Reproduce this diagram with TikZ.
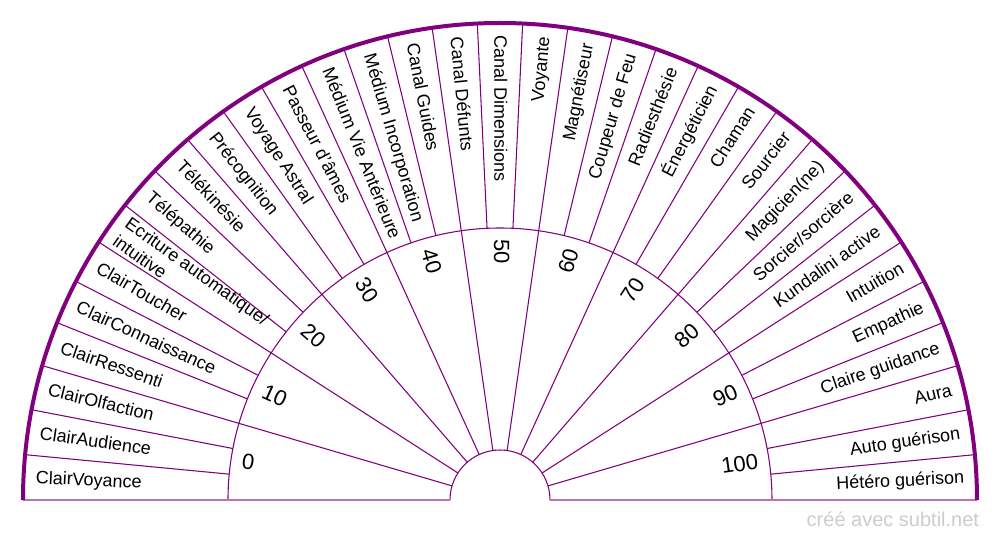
\documentclass[tikz,border=0pt]{standalone}
\usepackage{fontspec}
\setmainfont{Liberation Sans}
\definecolor{vio}{HTML}{800080}
\begin{document}
\begin{tikzpicture}[x=0.75pt,y=0.75pt,
  lab/.style={font=\fontsize{13.5}{16}\selectfont, inner sep=0pt, align=left},
  num/.style={font=\fontsize{16.5}{19}\selectfont, inner sep=0pt},
  spoke/.style={draw=vio, line width=0.8pt},
  base/.style={draw=vio!55, line width=1.4pt},
  rim/.style={draw=vio, line width=3pt},
  foot/.style={font=\fontsize{15}{18}\selectfont, text=black!20, inner sep=0pt}]
\useasboundingbox (-500,-40) rectangle (500,500);
% spokes
\foreach \j in {1,...,32}{
  \pgfmathsetmacro\a{180-\j*180/33}
  \pgfmathsetmacro\r{mod(\j,3)==0 ? 50 : 272}
  \draw[spoke] (\a:\r) -- (\a:477);
}
% arcs
\draw[spoke] (-272,0) arc[start angle=180,end angle=0,radius=272];
\draw[spoke] (-50,0) arc[start angle=180,end angle=0,radius=50];
\draw[base] (-477,0) -- (-50,0);
\draw[base] (50,0) -- (477,0);
\draw[rim] (-477,0) arc[start angle=180,end angle=0,radius=477];
% labels
\foreach \t [count=\i] in {ClairVoyance,ClairAudience,ClairOlfaction,ClairRessenti,ClairConnaissance,ClairToucher,{Ecriture automatique/\\intuitive},T\'el\'epathie,T\'el\'ekin\'esie,Pr\'ecognition,Voyage Astral,Passeur d'\^ames,M\'edium Vie Ant\'erieure,M\'edium Incorporation,Canal Guides,Canal D\'efunts,Canal Dimensions,Voyante,Magn\'etiseur,Coupeur de Feu,Radiesth\'esie,\'Energ\'eticien,Chaman,Sourcier,Magicien(ne),{Sorcier/sorci\`ere},Kundalini active,Intuition,Empathie,Claire guidance,Aura,Auto gu\'erison,H\'et\'ero gu\'erison}{
  \pgfmathsetmacro\a{180-(\i-0.5)*180/33}
  \ifnum\i<18
    \ifnum\i=7
      \node[lab, anchor=west, rotate=\a-180] (l\i) at (\a:465) {\t};
    \else
      \node[lab, anchor=mid west, rotate=\a-180] (l\i) at (\a:465) {\raisebox{-1.5pt}{\t}};
    \fi
  \else
    \node[lab, anchor=mid east, rotate=\a] (l\i) at (\a:465) {\raisebox{-1.5pt}{\t}};
  \fi
}
% numbers
\foreach \k in {0,...,10}{
  \pgfmathsetmacro\a{180-(\k+0.5)*180/11}
  \pgfmathtruncatemacro\v{\k*10}
  \ifnum\k<6
    \node[num, anchor=mid west, rotate=\a-180] (n\k) at (\a:261) {\raisebox{-1.8pt}{\v}};
  \else
    \node[num, anchor=mid east, rotate=\a] (n\k) at (\a:261) {\raisebox{-1.8pt}{\v}};
  \fi
}
\node[foot, anchor=base east] (credit) at (479.3,-26.7) {créé avec subtil.net};
\end{tikzpicture}
\end{document}
